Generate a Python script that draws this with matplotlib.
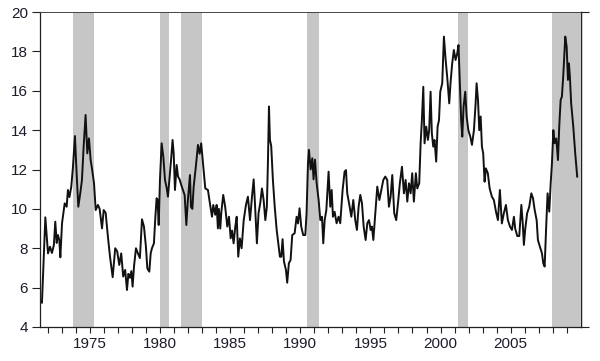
import matplotlib
matplotlib.use("Agg")
import matplotlib.pyplot as plt
from matplotlib.ticker import MultipleLocator, FixedLocator

# ---------------- data (decimal year, value) ----------------
dates = [
    1971.59, 1971.83, 1972.02, 1972.16, 1972.30, 1972.44, 1972.54, 1972.64, 1972.73, 1972.83,
    1972.90, 1973.02, 1973.21, 1973.35, 1973.44, 1973.55, 1973.68, 1973.80, 1973.94, 1974.06,
    1974.18, 1974.32, 1974.44, 1974.56, 1974.70, 1974.82, 1974.94, 1975.06, 1975.17, 1975.30,
    1975.42, 1975.58, 1975.70, 1975.87, 1975.99, 1976.13, 1976.29, 1976.44, 1976.63, 1976.81,
    1976.95, 1977.10, 1977.24, 1977.38, 1977.52, 1977.65, 1977.75, 1977.86, 1977.96, 1978.05,
    1978.15, 1978.29, 1978.43, 1978.57, 1978.72, 1978.86, 1979.00, 1979.10, 1979.24, 1979.34,
    1979.43, 1979.57, 1979.66, 1979.76, 1979.83, 1979.91, 1980.00, 1980.12, 1980.24, 1980.36,
    1980.47, 1980.57, 1980.69, 1980.81, 1980.90, 1980.98, 1981.07, 1981.19, 1981.29, 1981.40,
    1981.52, 1981.64, 1981.76, 1981.88, 1981.99, 1982.14, 1982.21, 1982.31, 1982.40, 1982.57,
    1982.71, 1982.83, 1982.94, 1983.09, 1983.23, 1983.42, 1983.56, 1983.71, 1983.80, 1983.94,
    1984.04, 1984.13, 1984.20, 1984.30, 1984.37, 1984.51, 1984.65, 1984.80, 1984.92, 1985.04,
    1985.14, 1985.25, 1985.37, 1985.47, 1985.58, 1985.70, 1985.82, 1985.97, 1986.13, 1986.27,
    1986.42, 1986.56, 1986.68, 1986.77, 1986.91, 1987.03, 1987.15, 1987.27, 1987.39, 1987.51,
    1987.62, 1987.70, 1987.77, 1987.84, 1987.93, 1988.05, 1988.18, 1988.32, 1988.46, 1988.55,
    1988.65, 1988.74, 1988.84, 1988.98, 1989.07, 1989.19, 1989.31, 1989.43, 1989.60, 1989.74,
    1989.84, 1989.95, 1990.07, 1990.21, 1990.36, 1990.45, 1990.55, 1990.62, 1990.74, 1990.86,
    1990.95, 1991.05, 1991.17, 1991.31, 1991.43, 1991.55, 1991.64, 1991.74, 1991.86, 1992.02,
    1992.14, 1992.24, 1992.33, 1992.45, 1992.59, 1992.73, 1992.85, 1993.02, 1993.16, 1993.26,
    1993.35, 1993.50, 1993.64, 1993.78, 1993.92, 1994.04, 1994.16, 1994.28, 1994.40, 1994.52,
    1994.66, 1994.78, 1994.90, 1995.02, 1995.11, 1995.21, 1995.35, 1995.49, 1995.64, 1995.78,
    1995.92, 1996.06, 1996.20, 1996.32, 1996.44, 1996.56, 1996.70, 1996.84, 1996.99, 1997.10,
    1997.25, 1997.39, 1997.51, 1997.63, 1997.75, 1997.87, 1997.98, 1998.10, 1998.24, 1998.34,
    1998.48, 1998.58, 1998.67, 1998.77, 1998.86, 1998.98, 1999.10, 1999.19, 1999.29, 1999.38,
    1999.48, 1999.57, 1999.69, 1999.79, 1999.89, 1999.98, 2000.12, 2000.24, 2000.36, 2000.48,
    2000.62, 2000.71, 2000.83, 2000.95, 2001.07, 2001.19, 2001.28, 2001.38, 2001.47, 2001.55,
    2001.64, 2001.76, 2001.86, 2001.98, 2002.12, 2002.24, 2002.38, 2002.50, 2002.57, 2002.67,
    2002.76, 2002.86, 2002.95, 2003.04, 2003.14, 2003.23, 2003.37, 2003.50, 2003.66, 2003.80,
    2003.95, 2004.09, 2004.23, 2004.37, 2004.51, 2004.66, 2004.80, 2004.95, 2005.09, 2005.23,
    2005.32, 2005.47, 2005.61, 2005.76, 2005.86, 2005.94, 2006.03, 2006.17, 2006.32, 2006.47,
    2006.59, 2006.71, 2006.85, 2006.94, 2007.08, 2007.23, 2007.32, 2007.42, 2007.53, 2007.63,
    2007.75, 2007.85, 2007.94, 2008.04, 2008.13, 2008.25, 2008.37, 2008.46, 2008.56, 2008.65,
    2008.75, 2008.82, 2008.89, 2008.99, 2009.08, 2009.15, 2009.22, 2009.31, 2009.46, 2009.60,
    2009.74,
]
values = [
    5.24, 9.57, 7.74, 8.08, 7.76, 8.17, 9.35, 8.27, 8.67, 8.40,
    7.54, 9.27, 10.28, 10.11, 10.96, 10.60, 11.13, 12.14, 13.70, 11.80,
    10.11, 10.79, 11.47, 13.16, 14.77, 12.82, 13.58, 12.48, 11.98, 11.30,
    9.94, 10.20, 10.00, 9.01, 9.94, 9.80, 8.59, 7.57, 6.53, 8.00,
    7.85, 7.15, 7.74, 6.56, 6.90, 5.88, 6.70, 6.50, 6.84, 6.05,
    7.07, 8.00, 7.74, 7.50, 9.47, 9.10, 8.08, 6.98, 6.81, 7.74,
    8.00, 8.25, 9.43, 10.54, 10.45, 9.18, 11.47, 13.33, 12.65, 11.47,
    11.10, 10.62, 11.64, 12.65, 13.50, 12.80, 10.96, 12.23, 11.64, 11.50,
    11.21, 10.96, 10.70, 9.18, 10.45, 11.72, 10.10, 10.00, 11.10, 12.23,
    13.25, 12.80, 13.33, 12.14, 11.04, 10.96, 10.28, 9.60, 10.20, 9.70,
    10.20, 9.01, 10.00, 9.00, 9.80, 10.71, 10.10, 9.10, 9.60, 8.51,
    8.90, 8.25, 9.10, 9.60, 7.57, 8.50, 8.00, 9.43, 10.20, 10.62,
    9.43, 10.62, 11.50, 10.30, 8.25, 9.80, 10.30, 11.04, 10.45, 9.43,
    10.10, 12.48, 15.20, 13.50, 13.20, 11.47, 10.11, 8.93, 8.08, 7.57,
    7.57, 8.46, 7.32, 6.90, 6.25, 7.24, 7.40, 8.67, 8.76, 9.60,
    9.26, 10.03, 9.10, 8.67, 8.67, 9.77, 12.30, 13.00, 12.00, 12.57,
    11.50, 12.50, 11.30, 10.45, 9.43, 9.60, 8.25, 9.43, 9.94, 11.89,
    10.11, 10.96, 9.60, 9.85, 9.27, 9.60, 9.27, 10.96, 11.89, 11.97,
    10.79, 10.20, 9.60, 10.45, 9.43, 8.93, 10.11, 10.71, 10.28, 9.10,
    8.42, 9.27, 9.43, 8.93, 9.10, 8.42, 9.77, 11.13, 10.45, 10.96,
    11.47, 11.64, 11.47, 10.11, 10.62, 11.72, 9.77, 9.43, 10.45, 11.30,
    12.14, 10.79, 11.47, 10.37, 11.30, 10.79, 11.81, 10.37, 11.81, 11.04,
    11.30, 13.33, 14.51, 16.20, 13.33, 14.18, 13.50, 14.00, 15.95, 13.84,
    13.16, 13.50, 12.40, 14.18, 14.51, 15.95, 16.38, 18.75, 17.60, 16.65,
    15.36, 16.38, 17.39, 18.07, 17.56, 17.90, 18.32, 16.38, 14.51, 13.67,
    15.19, 15.95, 14.69, 14.00, 13.67, 13.25, 14.00, 15.36, 16.38, 15.53,
    14.00, 14.69, 13.16, 12.82, 11.38, 12.06, 11.81, 11.04, 10.62, 10.45,
    9.86, 9.43, 10.96, 9.26, 9.77, 10.20, 9.43, 9.10, 8.93, 9.60,
    9.00, 8.62, 8.62, 10.20, 9.26, 8.17, 8.93, 9.77, 10.10, 10.79,
    10.54, 9.94, 9.43, 8.42, 8.08, 7.74, 7.24, 7.07, 9.10, 10.79,
    9.86, 11.30, 12.31, 14.00, 13.33, 13.58, 12.48, 14.18, 15.53, 15.70,
    16.80, 17.73, 18.75, 18.24, 16.55, 17.39, 16.72, 15.36, 14.18, 12.82,
    11.64,
]

# recession bands (start, end) in decimal years
rec_starts = [1973.83, 1980.00, 1981.53, 1990.50, 2001.22, 2007.92]
rec_ends = [1975.30, 1980.65, 1983.00, 1991.33, 2001.98, 2009.93]

x_major = [1975, 1980, 1985, 1990, 1995, 2000, 2005]
y_ticks = [4, 6, 8, 10, 12, 14, 16, 18, 20]

# ---------------- plot ----------------
plt.rcParams['font.family'] = ['Liberation Sans', 'DejaVu Sans']

fig = plt.figure(figsize=(6.0, 3.61), dpi=100)
ax = fig.add_axes([40 / 600, 34 / 361, 540.7 / 600, 315 / 361])

for s, e in zip(rec_starts, rec_ends):
    ax.axvspan(s, e, facecolor='#c6c6c6', edgecolor='none', zorder=1)

ax.plot(dates, values, color='#111111', lw=1.4, zorder=3)

ax.set_xlim(1971.45, 2009.99)
ax.set_ylim(4, 20)

ax.xaxis.set_major_locator(FixedLocator(x_major))
ax.xaxis.set_minor_locator(MultipleLocator(1))
ax.set_xticklabels([str(v) for v in x_major])
ax.set_yticks(y_ticks)
ax.set_yticklabels([str(v) for v in y_ticks])

lab_col = '#1c1c2c'
ax.tick_params(axis='x', which='both', direction='out', length=4.5, width=0.8,
               color='#222222', labelsize=11, labelcolor=lab_col, pad=3)
ax.tick_params(axis='y', which='major', direction='out', length=6, width=0.8,
               color='#222222', labelsize=11, labelcolor=lab_col, pad=2.5)

for side in ['left', 'bottom', 'right']:
    ax.spines[side].set_color('#222222')
    ax.spines[side].set_linewidth(0.9)
ax.spines['top'].set_color('#444444')
ax.spines['top'].set_linewidth(0.7)

ax2 = ax.twinx()
ax2.set_ylim(4, 20)
ax2.set_yticks([4, 20])
ax2.set_yticklabels(['', ''])
ax2.tick_params(axis='y', direction='out', length=6, width=0.8, color='#222222')
for side in ['left', 'bottom', 'top']:
    ax2.spines[side].set_visible(False)
ax2.spines['right'].set_color('#222222')
ax2.spines['right'].set_linewidth(0.9)

fig.savefig('out.png', dpi=100)
